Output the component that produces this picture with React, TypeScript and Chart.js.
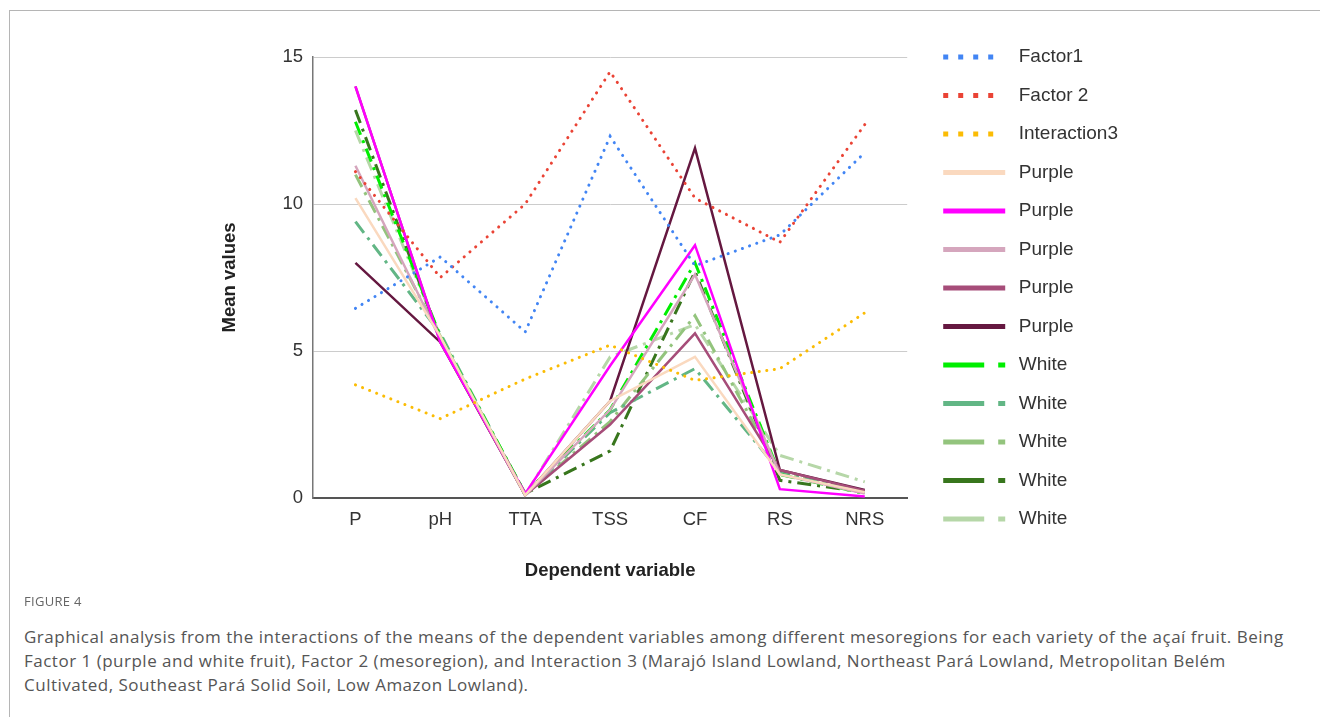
import React, { useEffect, useRef } from "react";
import { Chart, registerables } from "chart.js";

Chart.register(...registerables);

const categories = ["P", "pH", "TTA", "TSS", "CF", "RS", "NRS"];
const yTicks = [0, 5, 10, 15];

const factor1 = [6.45, 8.2, 5.65, 12.3, 7.9, 8.95, 11.75];
const factor2 = [11.1, 7.5, 10.0, 14.5, 10.2, 8.7, 12.7];
const interaction3 = [3.85, 2.7, 4.05, 5.2, 4.0, 4.4, 6.3];

const purple1 = [10.2, 5.5, 0.1, 3.3, 4.8, 0.8, 0.2];
const purple2 = [14.0, 5.3, 0.15, 4.5, 8.6, 0.3, 0.05];
const purple3 = [11.3, 5.4, 0.1, 3.0, 7.6, 0.8, 0.15];
const purple4 = [14.0, 5.3, 0.1, 2.5, 5.6, 0.95, 0.25];
const purple5 = [8.0, 5.3, 0.1, 3.3, 11.9, 0.95, 0.27];

const white1 = [12.8, 5.5, 0.15, 3.0, 8.0, 0.8, 0.15];
const white2 = [9.4, 5.6, 0.1, 2.9, 4.4, 0.9, 0.2];
const white3 = [11.0, 5.5, 0.1, 2.6, 6.2, 0.9, 0.2];
const white4 = [13.2, 5.4, 0.15, 1.6, 7.7, 0.6, 0.2];
const white5 = [12.5, 5.5, 0.1, 4.8, 5.9, 1.45, 0.55];

const seriesLabels = [
  "Factor1", "Factor 2", "Interaction3",
  "Purple", "Purple", "Purple", "Purple", "Purple",
  "White", "White", "White", "White", "White",
];
const seriesData = [
  factor1, factor2, interaction3,
  purple1, purple2, purple3, purple4, purple5,
  white1, white2, white3, white4, white5,
];
const seriesColors = [
  "#4285f4", "#ea4335", "#fbbc04",
  "#fad9bf", "#ff00ff", "#d5a6bd", "#a64d79", "#651840",
  "#00ee00", "#62b685", "#93c47d", "#38761d", "#b6d7a8",
];
const seriesKinds = [
  "dot", "dot", "dot",
  "solid", "solid", "solid", "solid", "solid",
  "dashdot", "dashdot", "dashdot", "dashdot", "dashdot",
];

const chartDash: Record<string, number[]> = {
  dot: [0.1, 7.5],
  solid: [],
  dashdot: [14, 6, 3, 6],
};
const legendDash: Record<string, number[]> = {
  dot: [5, 10, 5, 10, 5, 10, 5, 100],
  solid: [62, 100],
  dashdot: [41, 14, 7, 100],
};

const FONT = "'Liberation Sans', Arial, sans-serif";

export default function App() {
  const canvasRef = useRef<HTMLCanvasElement | null>(null);

  useEffect(() => {
    const canvas = canvasRef.current;
    if (!canvas) return;
    const datasets = seriesData.map((data, i) => {
      const kind = seriesKinds[i];
      return {
        label: seriesLabels[i],
        data,
        kind,
        borderColor: seriesColors[i],
        backgroundColor: seriesColors[i],
        borderWidth: kind === "solid" ? 2.5 : 3,
        borderDash: chartDash[kind],
        borderCapStyle: kind === "dot" ? "round" : "butt",
        pointRadius: 0,
        pointHoverRadius: 0,
        tension: 0,
        fill: false,
      } as any;
    });

    const chart = new Chart(canvas, {
      type: "line",
      data: { labels: categories, datasets },
      options: {
        animation: false,
        responsive: false,
        maintainAspectRatio: false,
        layout: { padding: { left: 218, top: 28, right: 192, bottom: 2 } },
        plugins: {
          tooltip: { enabled: false },
          title: {
            display: true,
            text: "",
            font: { size: 10, lineHeight: 1 },
            padding: { top: 19, bottom: 0 },
          },
          legend: {
            display: true,
            position: "right",
            align: "start",
            maxWidth: 400,
            labels: {
              usePointStyle: true,
              pointStyle: "line",
              pointStyleWidth: 66,
              padding: 19.5,
              color: "#333",
              font: { family: FONT, size: 19 },
              generateLabels: (c: any) =>
                c.data.datasets.map((d: any, i: number) => ({
                  text: d.label,
                  fillStyle: d.borderColor,
                  strokeStyle: d.borderColor,
                  lineWidth: 5,
                  lineDash: legendDash[d.kind],
                  lineCap: "butt",
                  pointStyle: "line",
                  hidden: false,
                  datasetIndex: i,
                  fontColor: "#333",
                })),
            },
          },
        },
        scales: {
          x: {
            type: "category",
            offset: true,
            grid: { display: false, drawTicks: false },
            border: { display: true, color: "#555", width: 2 },
            ticks: { color: "#333", padding: 11, font: { family: FONT, size: 18.5 } },
            title: {
              display: true,
              text: "Dependent variable",
              color: "#222",
              font: { family: FONT, size: 18.5, weight: "bold" },
              padding: { top: 0, bottom: 16 },
            },
            afterFit: (s: any) => {
              s.height = 100;
            },
          },
          y: {
            type: "linear",
            min: 0,
            max: 15,
            afterBuildTicks: (s: any) => {
              s.ticks = yTicks.map((v) => ({ value: v }));
            },
            grid: { color: "#cccccc", lineWidth: 1, drawTicks: false },
            border: { display: true, color: "#777", width: 1.5 },
            ticks: { color: "#333", padding: 10, font: { family: FONT, size: 18.5 } },
            title: {
              display: true,
              text: "Mean values",
              color: "#222",
              font: { family: FONT, size: 18.5, weight: "bold" },
              padding: { top: 1, bottom: 0 },
            },
            afterFit: (s: any) => {
              s.width = 95;
            },
          },
          yR: {
            type: "linear",
            position: "right",
            display: true,
            grid: { display: false, drawTicks: false },
            border: { display: false },
            ticks: { display: false },
            afterFit: (s: any) => {
              s.width = 16.5;
            },
          },
        },
      } as any,
    });
    return () => chart.destroy();
  }, []);

  return (
    <div style={{ position: "absolute", left: 0, top: 0, width: 1320, height: 717, overflow: "hidden" }}>
      <div
        style={{
          position: "absolute",
          left: 9,
          top: 10,
          width: 1400,
          height: 800,
          borderTop: "1.5px solid #b5b5b5",
          borderLeft: "1.5px solid #b5b5b5",
          boxSizing: "border-box",
        }}
      />
      <canvas
        ref={canvasRef}
        width={1320}
        height={600}
        style={{ position: "absolute", left: 0, top: 0, width: 1320, height: 600 }}
      />
      <div
        style={{
          position: "absolute",
          left: 24,
          top: 592,
          fontFamily: "'Open Sans', sans-serif",
          fontSize: 13,
          color: "#666",
          letterSpacing: 0.3,
          lineHeight: "18px",
        }}
      >
        FIGURE 4
      </div>
      <div
        style={{
          position: "absolute",
          left: 24,
          top: 625,
          fontFamily: "'Open Sans', sans-serif",
          fontSize: 17,
          letterSpacing: 0.5,
          color: "#555",
          lineHeight: "24px",
          whiteSpace: "nowrap",
        }}
      >
        Graphical analysis from the interactions of the means of the dependent variables among different mesoregions for each variety of the açaí fruit. Being
        <br />
        Factor 1 (purple and white fruit), Factor 2 (mesoregion), and Interaction 3 (Marajó Island Lowland, Northeast Pará Lowland, Metropolitan Belém
        <br />
        Cultivated, Southeast Pará Solid Soil, Low Amazon Lowland).
      </div>
    </div>
  );
}
